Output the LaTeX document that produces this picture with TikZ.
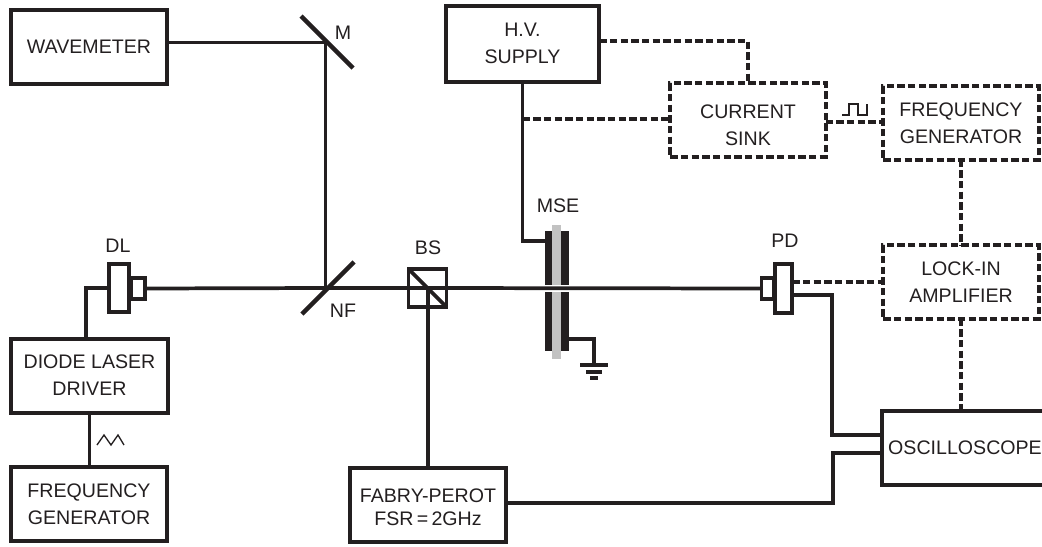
\documentclass[tikz,border=0pt]{standalone}
\usepackage{fontspec}
\setmainfont{Liberation Sans}
\usetikzlibrary{calc, positioning}
\definecolor{inkcol}{HTML}{231F20}
\definecolor{platecol}{HTML}{C2C2C2}
\begin{document}
\begin{tikzpicture}[x=0.75pt, y=-0.75pt, align=center, font=\fontsize{14.7pt}{20.25pt}\selectfont, text=inkcol]
\tikzstyle{wire}=[draw=inkcol, line width=2.8pt]
\tikzstyle{dashwire}=[draw=inkcol, line width=2.8pt, dash pattern=on 5.6pt off 2.4pt]
\tikzstyle{solid box}=[rectangle, wire, line width=3pt, inner sep=0pt, outer sep=0pt, minimum width=117.5pt, minimum height=55pt]
\tikzstyle{dash box}=[rectangle, dashwire, inner sep=0pt, outer sep=0pt, minimum width=116.5pt, minimum height=55pt]
\tikzstyle{part}=[rectangle, wire, fill=white, inner sep=0pt, outer sep=0pt]
\tikzstyle{plate}=[rectangle, fill=inkcol, inner sep=0pt, outer sep=0pt, minimum width=18pt]
\tikzstyle{annot}=[inner sep=0pt]
\useasboundingbox (0,0) rectangle (1042,546);

% boxes
\node[solid box] (WM) at (89,47) {WAVEMETER};
\node[solid box, minimum width=115pt, minimum height=57pt] (HV) at (522.5,43.5) {H.V.\\SUPPLY};
\node[dash box] (CS) at (748,120) {\rule{0pt}{18pt}CURRENT\\SINK};
\node[dash box] (FG) at (961,123) {FREQUENCY\\GENERATOR};
\node[dash box] (LI) at (961,282) {LOCK-IN\\AMPLIFIER};
\node[solid box, minimum width=124pt, minimum height=55pt] (OS) at (965,448) {OSCILLOSCOPE};
\node[solid box] (FP) at (428,505) {\rule{0pt}{13.5pt}FABRY-PEROT\\[-3pt]FSR\,=\,2GHz};
\node[solid box, minimum height=55.5pt] (DD) at (89.5,375.5) {DIODE LASER\\DRIVER};
\node[solid box] (FL) at (89,504) {FREQUENCY\\GENERATOR};

% beam axis
\coordinate (NF) at (325.5,288);
\coordinate (M) at (325.5,42.5);
\coordinate (BSc) at (428,288);

% laser and detector
\node[part, minimum width=15pt, minimum height=36pt] (DL) at (119,288) {};
\node[part, minimum width=11pt, minimum height=16pt] (DLs) at (138,288.5) {};
\node[part, minimum width=13pt, minimum height=37pt] (PD) at (783.5,288.5) {};
\node[part, minimum width=9pt, minimum height=16pt] (PDs) at (767.5,288.5) {};

% MSE
\node[plate, minimum height=40.5pt] (MSEu) at (557,258) {};
\node[plate, minimum height=44.25pt] (MSEd) at (557,321.5) {};
\fill[platecol] (552,225) rectangle (561,285);
\fill[platecol] (552,292) rectangle (561,359);

% optical paths
\draw[wire] (DLs.east) -- (NF) -- (BSc) -- (PDs.west);
\draw[wire] (M -| WM.east) -- (M) -- (NF);
\draw[wire] (BSc) -- (BSc |- FP.north);

% mirrors
\coordinate (NFa) at (302,314);
\coordinate (NFb) at (354,262);
\coordinate (Ma) at (301,16);
\coordinate (Mb) at (353,68);
\draw[wire, line width=3.2pt] (NFa) -- (NFb);
\draw[wire, line width=3.2pt] (Ma) -- (Mb);

% beam splitter
\node[part, fill=none, minimum width=28.5pt, minimum height=28.5pt] (BS) at (427.5,288) {};
\draw[wire] (BS.north west) -- (BS.south east);

% MSE wires
\draw[wire] (HV.south) -- (HV.south |- 0,241) -- (MSEu.west |- 0,241);
\coordinate (GND) at (594,365);
\draw[wire] (MSEd.east |- 0,339) -| (GND);
\coordinate (GNDa) at (580,365);
\coordinate (GNDb) at (608,365);
\coordinate (GNDc) at (586,372);
\coordinate (GNDd) at (602,372);
\coordinate (GNDe) at (590,378);
\coordinate (GNDf) at (598,378);
\draw[wire] (GNDa) -- (GNDb);
\draw[wire] (GNDc) -- (GNDd);
\draw[wire] (GNDe) -- (GNDf);

% solid wires
\draw[wire] (DL.west) -| (86,338);
\draw[wire] (DD.south) -- (DD.south |- FL.north);
\draw[wire] (PD.east |- 0,295) -| (832,435) -- (OS.west |- 0,435);
\draw[wire] (FP.east |- 0,503) -| (833,453) -- (OS.west |- 0,453);

% dashed wires
\draw[dashwire] (HV.east |- 0,41) -| (CS.north);
\draw[dashwire] (HV.south |- 0,119) -- (CS.west |- 0,119);
\draw[dashwire] (CS.east |- 0,122) -- (FG.west |- 0,122);
\draw[dashwire] (FG.south) -- (LI.north);
\draw[dashwire] (LI.south) -- (LI.south |- OS.north);
\draw[dashwire] (PD.east |- 0,282) -- (LI.west |- 0,282);

% signal shapes
\draw[draw=inkcol, line width=1pt] (842,115) -- (849,115) -- (849,104) -- (858,104) -- (858,115) -- (867,115) -- (867,104);
\draw[draw=inkcol, line width=1pt] (97,445) -- (104,435) -- (111,445) -- (118,435) -- (124,445);

% labels
\node[annot] (DLlab) at (118,246) {DL};
\node[annot] (BSlab) at (428,248) {BS};
\node[annot] (NFlab) at (343,311) {NF};
\node[annot] (Mlab) at (343,33) {M};
\node[annot] (MSElab) at (558,206) {MSE};
\node[annot] (PDlab) at (785,241) {PD};
\end{tikzpicture}
\end{document}
